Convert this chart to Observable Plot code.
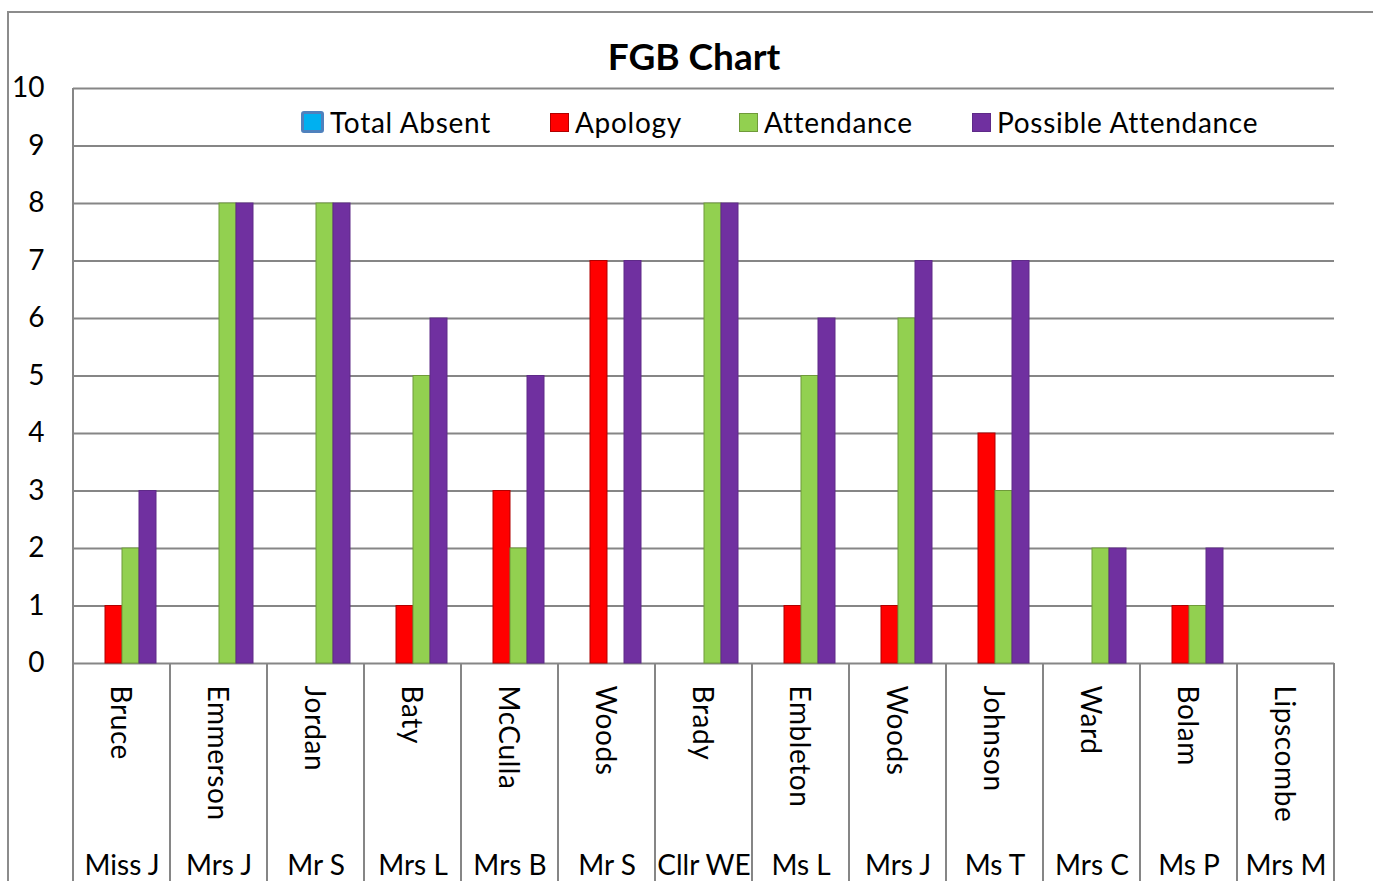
<!DOCTYPE html>
<html><head><meta charset="utf-8">
<script src="https://cdn.jsdelivr.net/npm/d3@7"></script>
<script src="https://cdn.jsdelivr.net/npm/@observablehq/plot@0.6"></script>
<style>
html,body{margin:0;padding:0;background:#fff;overflow:hidden;}
#wrap{position:relative;width:1373px;height:881px;overflow:hidden;font-family:Lato,"Open Sans",sans-serif;color:#000;}
#chart{position:absolute;left:0;top:0;}
#border{position:absolute;left:7px;top:11px;width:1500px;height:1000px;border:2px solid #8c8c8c;box-sizing:border-box;pointer-events:none;}
#title{position:absolute;left:694px;top:37px;transform:translateX(-50%);font-weight:700;font-size:37px;line-height:37px;white-space:nowrap;}
#legend{position:absolute;left:0;top:108px;width:1373px;height:30px;font-size:28px;line-height:28px;white-space:nowrap;letter-spacing:0.7px;}
.item{position:absolute;top:0;display:flex;align-items:center;gap:6px;}
.sw{width:19px;height:19px;box-sizing:border-box;border:1px solid;}
</style></head>
<body><div id="wrap"><div id="chart"></div><div id="border"></div><div id="title">FGB Chart</div><div id="legend"></div></div>
<script>
// ---- data ----
const surnames = ["Bruce","Emmerson","Jordan","Baty","McCulla","Woods","Brady","Embleton","Woods","Johnson","Ward","Bolam","Lipscombe"];
const titles = ["Miss J","Mrs J","Mr S","Mrs L","Mrs B","Mr S","Cllr WE","Ms L","Mrs J","Ms T","Mrs C","Ms P","Mrs M"];
const series = ["Total Absent","Apology","Attendance","Possible Attendance"];
const totalAbsent = [0,0,0,0,0,0,0,0,0,0,0,0,0];
const apology = [1,0,0,1,3,7,0,1,1,4,0,1,0];
const attendance = [2,8,8,5,2,0,8,5,6,3,2,1,0];
const possibleAttendance = [3,8,8,6,5,7,8,6,7,7,2,2,0];
const yTicks = [0,1,2,3,4,5,6,7,8,9,10];

const fills = ["#00b0f0","#ff0000","#92d050","#7030a0"];
const strokes = ["#4f81bd","#b00000","#6f9a3a","#5e2a88"];
const legendLeft = [301, 550, 739, 972];

const keys = surnames.map((s,i) => s + "|" + titles[i]);
const cats = keys.map((k,i) => ({key:k, surname:surnames[i], title:titles[i]}));
const values = [totalAbsent, apology, attendance, possibleAttendance];
const rows = [];
series.forEach((s,j) => keys.forEach((k,i) => rows.push({key:k, series:s, value:values[j][i]})));

const plot = Plot.plot({
  width: 1373, height: 881,
  marginLeft: 73, marginRight: 39, marginTop: 88, marginBottom: 218,
  fx: {domain: keys, padding: 0, axis: null, label: null},
  x: {domain: series, paddingInner: 0, paddingOuter: 0.7, axis: null},
  y: {domain: [0,10], ticks: yTicks, tickSize: 0, tickPadding: 29, label: null, tickFormat: d => String(d)},
  style: {fontFamily: "Lato, 'Open Sans', sans-serif", fontSize: "28px", background: "transparent", color: "#000", overflow: "visible"},
  marks: [
    Plot.ruleY(yTicks, {stroke: "#868686", strokeWidth: 2, strokeOpacity: 1}),
    ...series.map((s,j) => Plot.barY(rows.filter(r => r.series === s && r.value > 0),
      {fx: "key", x: "series", y: "value", fill: fills[j], stroke: strokes[j], strokeWidth: 1})),
    Plot.text(cats, {fx: "key", text: "surname", frameAnchor: "bottom", rotate: 90, textAnchor: "start", lineAnchor: "middle", dy: 22, dx: -2, fontSize: 28, fill: "#000", style: "letter-spacing:0.6px"}),
    Plot.text(cats, {fx: "key", text: "title", frameAnchor: "bottom", lineAnchor: "middle", dy: 203, fontSize: 28, fill: "#000"})
  ]
});
document.getElementById("chart").appendChild(plot);
d3.select(plot).selectAll("text").filter(function(){ return /Bruce|Emmerson|Jordan|Baty|McCulla|Woods|Brady|Embleton|Johnson|Ward|Bolam|Lipscombe/.test(this.textContent); }).style("letter-spacing","0.6px");

// category dividers and value-axis line
const fx = plot.scale("fx"), ys = plot.scale("y");
let starts = keys.map(k => fx.apply(k));
if (starts[0] < 40) starts = starts.map(v => v + 73);
const bounds = starts.concat([starts[starts.length-1] + fx.bandwidth]);
const svg = d3.select(plot);
const g = svg.append("g").attr("stroke", "#868686").attr("stroke-width", 2);
bounds.forEach(xv => g.append("line").attr("x1", xv).attr("x2", xv).attr("y1", ys.apply(0)).attr("y2", 881));
g.append("line").attr("x1", bounds[0]).attr("x2", bounds[0]).attr("y1", ys.apply(10)).attr("y2", ys.apply(0));

// legend
const legend = document.getElementById("legend");
series.forEach((s,j) => {
  const it = document.createElement("div"); it.className = "item"; it.style.left = legendLeft[j] + "px";
  const sw = document.createElement("div"); sw.className = "sw";
  sw.style.background = fills[j]; sw.style.borderColor = strokes[j];
  if (j === 0) { sw.style.border = "3px solid #4f81bd"; sw.style.borderRadius = "3px"; sw.style.width = "23px"; sw.style.height = "22px"; }
  const tx = document.createElement("span"); tx.textContent = s;
  it.appendChild(sw); it.appendChild(tx); legend.appendChild(it);
});
</script>
</body></html>
